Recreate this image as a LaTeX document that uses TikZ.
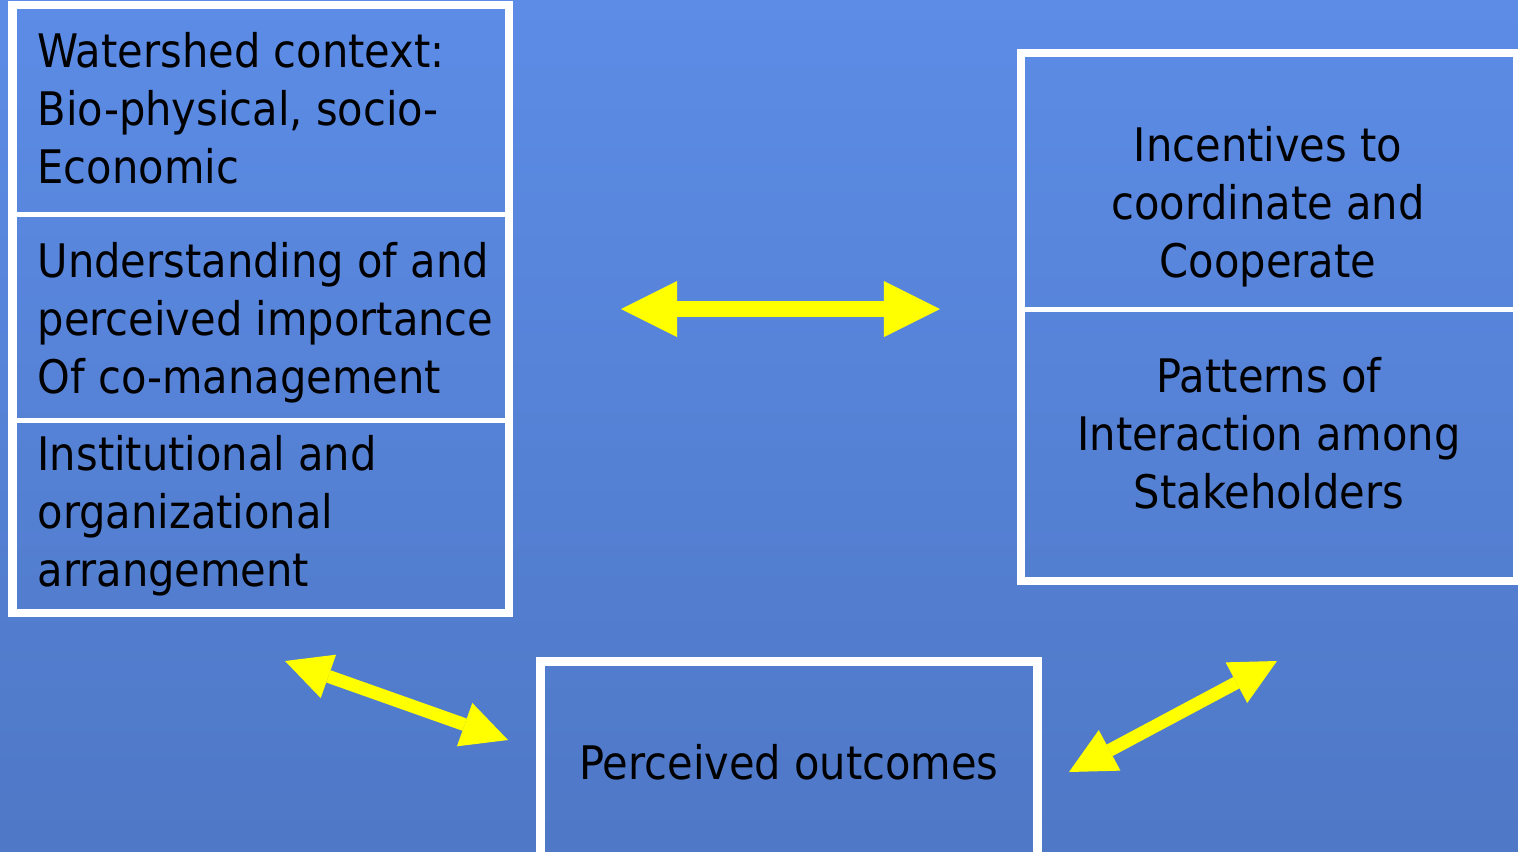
\documentclass[tikz,border=0pt]{standalone}
\usepackage{fontspec}
\setmainfont{DejaVu Sans Condensed}
\usetikzlibrary{positioning, arrows.meta}
\definecolor{bgtop}{RGB}{92,140,230}
\definecolor{bgbottom}{RGB}{79,120,198}
\definecolor{glow}{RGB}{255,255,0}

\begin{document}
\begin{tikzpicture}[x=0.01cm, y=-0.01cm,
    panel/.style={draw=white, line width=0.05cm, inner sep=0pt, outer sep=0pt},
    frame/.style={draw=white, line width=0.085cm},
    boxtext/.style={inner sep=0pt, font=\fontsize{13.15pt}{16.4pt}\selectfont, align=#1},
    link/.style={{Triangle[length=0.56cm, width=0.56cm, line width=0pt]}-{Triangle[length=0.56cm, width=0.56cm, line width=0pt]}, line width=0.16cm, glow},
    slimlink/.style={{Triangle[length=0.46cm, width=0.46cm, line width=0pt]}-{Triangle[length=0.46cm, width=0.46cm, line width=0pt]}, line width=0.13cm, glow}
]
    \useasboundingbox (0,0) rectangle (1518,851);
    \clip (0,0) rectangle (1518,851);
    \shade[top color=bgtop, bottom color=bgbottom] (0,0) rectangle (1518,851);

    % left column
    \node (context) [panel, minimum width=4.965cm, minimum height=2.09cm] at (260.75,109.5) {};
    \node (understanding) [panel, minimum width=4.965cm, minimum height=2.065cm, below=0pt of context] {};
    \node (institution) [panel, minimum width=4.965cm, minimum height=1.92cm, below=0pt of understanding] {};
    \draw[frame] (context.north west) rectangle (institution.south east);

    % base = last line
    \node (context-t) [boxtext=left, anchor=base west] at (37,183) {Watershed context:\\Bio-physical, socio-\\Economic};
    \node (understanding-t) [boxtext=left, anchor=base west] at (37,393) {Understanding of and\\perceived importance\\Of co-management};
    \node (institution-t) [boxtext=left, anchor=base west] at (37,586) {Institutional and\\organizational\\arrangement};

    % right column
    \node (incentive) [panel, minimum width=4.96cm, minimum height=2.565cm] at (1269,181.25) {};
    \node (pattern) [panel, minimum width=4.96cm, minimum height=2.715cm, below=0pt of incentive] {};
    \draw[frame] (incentive.north west) rectangle (pattern.south east);

    \node (incentive-t) [boxtext=center, anchor=base] at (1268,277) {Incentives to\\coordinate and\\Cooperate};
    \node (pattern-t) [boxtext=center, anchor=base] at (1269,508) {Patterns of\\Interaction among\\Stakeholders};

    % bottom box
    \node (outcome) [panel, frame, minimum width=4.97cm, minimum height=2.385cm, outer sep=0pt] at (789,780.75) {};
    \node (outcome-t) [boxtext=center, anchor=base] at (789,779) {Perceived outcomes};

    % arrows
    \coordinate (mid-l) at (621,309);
    \coordinate (mid-r) at (940,309);
    \coordinate (low-l) at (285,661);
    \coordinate (low-r) at (508,740);
    \coordinate (side-l) at (1069,772);
    \coordinate (side-r) at (1277,661);

    \draw[link] (mid-l) -- (mid-r);
    \draw[slimlink] (low-l) -- (low-r);
    \draw[slimlink] (side-l) -- (side-r);
\end{tikzpicture}
\end{document}
